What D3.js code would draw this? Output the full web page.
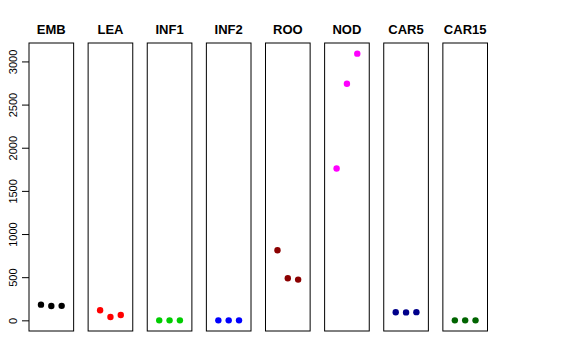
<!DOCTYPE html>
<html>
<head>
<meta charset="utf-8">
<script src="https://cdn.jsdelivr.net/npm/d3@7"></script>
<style>
  body { margin: 0; background: #fff; }
  svg { display: block; font-family: "Liberation Sans", Arial, sans-serif; }
</style>
</head>
<body>
<svg id="chart" width="576" height="360"></svg>
<script>
"use strict";

const width = 576
const height = 360

// panel names and point colours
const categories = ["EMB", "LEA", "INF1", "INF2", "ROO", "NOD", "CAR5", "CAR15"]
const colors = ["#000000", "#FF0000", "#00CD00", "#0000FF", "#8B0000", "#FF00FF", "#00008B", "#006400"]

// three replicates per panel
const rep1 = [182, 116, 0, 0, 812, 1760, 93, 0]
const rep2 = [166, 38, 0, 0, 487, 2742, 92, 0]
const rep3 = [168, 62, 0, 0, 472, 3090, 95, 0]

const yTicks = [0, 500, 1000, 1500, 2000, 2500, 3000]

const svg = d3.select("#chart")

// panels share the same y range (R style 4% padding)
const all = rep1.concat(rep2, rep3)
const [lo, hi] = d3.extent(all)
const pad = (hi - lo) * 0.04
const y = d3.scaleLinear().domain([lo - pad, hi + pad]).range([331, 43])

const panel = d3.scaleBand()
    .domain(categories)
    .range([29, 487.5])
    .paddingInner(0.245)
    .paddingOuter(0)

const xIn = d3.scaleLinear().domain([-0.16, 4.16]).range([0, panel.bandwidth()])

categories.forEach((cat, i) => {
    const g = svg.append("g").attr("transform", `translate(${panel(cat)},0)`)

    g.append("rect")
        .attr("x", 0)
        .attr("y", y.range()[1])
        .attr("width", panel.bandwidth())
        .attr("height", y.range()[0] - y.range()[1])
        .attr("fill", "none")
        .attr("stroke", "#000")
        .attr("stroke-width", 1)

    g.append("text")
        .attr("x", panel.bandwidth() / 2)
        .attr("y", 34)
        .attr("text-anchor", "middle")
        .attr("font-weight", "bold")
        .attr("font-size", 13)
        .text(cat)

    const vals = [rep1[i], rep2[i], rep3[i]]
    g.selectAll("circle")
        .data(vals)
        .join("circle")
        .attr("cx", (d, j) => xIn(j + 1))
        .attr("cy", d => y(d))
        .attr("r", 3.2)
        .attr("fill", colors[i])
})

// y axis on the first panel only
const axis = svg.append("g").attr("transform", `translate(${panel(categories[0])},0)`)
axis.call(d3.axisLeft(y).tickValues(yTicks).tickSize(7).tickFormat(d3.format("d")))
axis.select(".domain").remove()
axis.selectAll(".tick line").attr("stroke", "#000")
axis.selectAll(".tick text")
    .attr("x", null)
    .attr("dy", null)
    .attr("text-anchor", "middle")
    .attr("transform", "translate(-12,0) rotate(-90)")
    .attr("font-size", 11)
    .attr("font-family", "Liberation Sans, Arial, sans-serif")
    .attr("fill", "#000")
</script>
</body>
</html>
